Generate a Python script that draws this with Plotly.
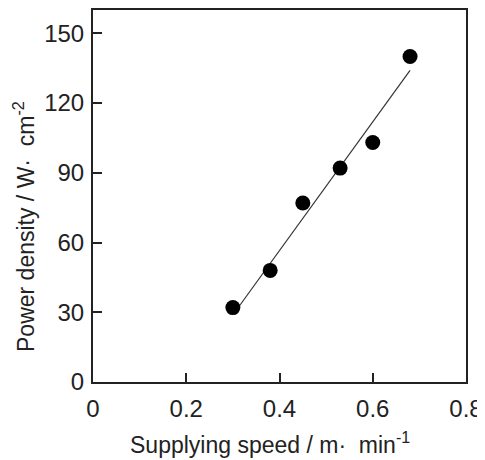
import plotly.graph_objects as go

# measured points
speed = [0.30, 0.38, 0.45, 0.53, 0.60, 0.68]
power = [32, 48, 77, 92, 103, 140]

# fitted line, endpoints
fit_speed = [0.315, 0.68]
fit_power = [33, 134]

x_ticks = [0, 0.2, 0.4, 0.6, 0.8]
x_labels = ["0", "0.2", "0.4", "0.6", "0.8"]
y_ticks = [0, 30, 60, 90, 120, 150]

x_title = "Supplying speed / m·\u00a0 min<sup>-1</sup>"
y_title = "Power density / W·\u00a0 cm<sup>-2</sup>"

FONT = "'Liberation Sans', Arial, sans-serif"
INK = "#222"

fig = go.Figure()
fig.add_trace(go.Scatter(
    x=fit_speed, y=fit_power, mode="lines",
    line=dict(color="#333", width=1.2), showlegend=False
))
fig.add_trace(go.Scatter(
    x=speed, y=power, mode="markers",
    marker=dict(color="black", size=15), showlegend=False
))

axis_style = dict(
    showgrid=False, zeroline=False, automargin=False,
    showline=True, linecolor=INK, linewidth=2, mirror=True,
    ticks="inside", ticklen=9, tickwidth=2, tickcolor=INK,
    tickfont=dict(size=24),
)

# page body adds an 8px offset, so the figure is a bit smaller than the window
fig.update_layout(
    width=477, height=452,
    paper_bgcolor="white", plot_bgcolor="white",
    margin=dict(l=85, r=19, t=2, b=78),
    font=dict(family=FONT, color=INK, size=24),
    xaxis=dict(range=[0, 0.8], tickvals=x_ticks, ticktext=x_labels,
               ticklabelstandoff=4, **axis_style),
    yaxis=dict(range=[0, 160], tickvals=y_ticks,
               ticklabelstandoff=2, **axis_style),
)

# axis titles as annotations: the y title sits below the plot centre in the original
fig.add_annotation(text=x_title, xref="paper", yref="paper",
                   x=0.4745, y=0, xanchor="center", yanchor="middle",
                   yshift=-61, showarrow=False, font=dict(size=23))
fig.add_annotation(text=y_title, xref="paper", yref="paper",
                   x=0, y=0.4167, xanchor="center", yanchor="middle",
                   xshift=-69, textangle=-90, showarrow=False,
                   font=dict(size=23))

fig.write_html("out.html")
